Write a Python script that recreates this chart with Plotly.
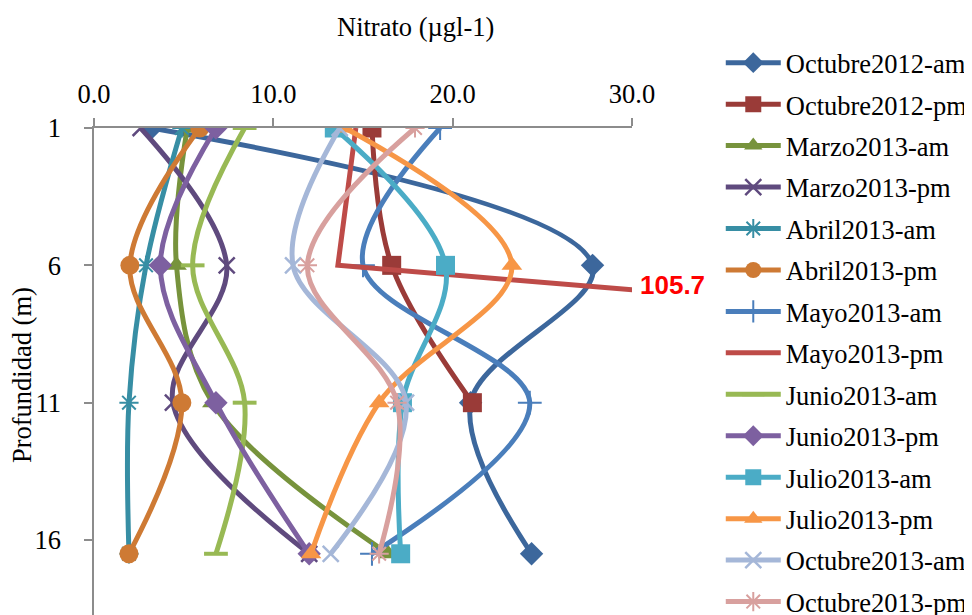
import plotly.graph_objects as go

depth = [1, 6, 11, 16.5]

series_names = [
    "Octubre2012-am", "Octubre2012-pm", "Marzo2013-am", "Marzo2013-pm",
    "Abril2013-am", "Abril2013-pm", "Mayo2013-am", "Mayo2013-pm",
    "Junio2013-am", "Junio2013-pm", "Julio2013-am", "Julio2013-pm",
    "Octubre2013-am", "Octubre2013-pm",
]

octubre2012_am = [3.2, 27.8, 21.0, 24.4]
octubre2012_pm = [15.5, 16.6, 21.1, None]
marzo2013_am = [5.2, 4.6, 6.6, 16.4]
marzo2013_pm = [2.6, 7.4, 4.4, 12.0]
abril2013_am = [4.9, 2.9, 1.95, 1.95]
abril2013_pm = [5.9, 2.0, 4.9, 1.95]
mayo2013_am = [19.3, 15.0, 24.3, 15.5]
mayo2013_pm = [14.6, 13.6, 105.7, None]
junio2013_am = [8.4, 5.5, 8.4, 6.8]
junio2013_pm = [6.8, 3.7, 6.8, 12.0]
julio2013_am = [13.4, 19.6, 17.2, 17.1]
julio2013_pm = [14.0, 23.3, 15.9, 12.1]
octubre2013_am = [13.7, 11.1, 17.4, 13.2]
octubre2013_pm = [17.9, 11.9, 16.9, 15.9]

values = [
    octubre2012_am, octubre2012_pm, marzo2013_am, marzo2013_pm,
    abril2013_am, abril2013_pm, mayo2013_am, mayo2013_pm,
    junio2013_am, junio2013_pm, julio2013_am, julio2013_pm,
    octubre2013_am, octubre2013_pm,
]

x_ticks = [0, 10, 20, 30]
x_tick_labels = ["0.0", "10.0", "20.0", "30.0"]
y_ticks = [1, 6, 11, 16]
y_tick_labels = ["1", "6", "11", "16"]
off_scale_label = "105.7"

colors = [
    "#3C679C", "#9A3B38", "#77933C", "#5F4A7E",
    "#378EA4", "#CE7A34", "#4A7EBB", "#BE4B48",
    "#98B954", "#7D60A0", "#4BACC6", "#F79646",
    "#A5B7D8", "#D8A09E",
]
# (symbol, size, line width for open symbols)
markers = [
    ("diamond", 18, 0), ("square", 19, 0), ("triangle-up", 18, 0), ("x-thin-open", 16, 2.5),
    ("asterisk-open", 16, 2), ("circle", 19, 0), ("cross-thin-open", 17, 2), (None, 0, 0),
    ("line-ew-open", 17, 4), ("diamond", 18, 0), ("square", 19, 0), ("triangle-up", 18, 0),
    ("x-thin-open", 16, 2.5), ("asterisk-open", 16, 2),
]
smooth = [1, 1, 1, 1, 1, 1, 1, 0, 1, 1, 1, 1, 1, 1]

FONT = "Liberation Serif"
FS = 26.5

fig = go.Figure()
for i, (name, vals) in enumerate(zip(series_names, values)):
    sym, size, lw = markers[i]
    mode = "lines+markers" if sym else "lines"
    mk = dict(color=colors[i])
    if sym:
        mk.update(symbol=sym, size=size, line=dict(width=lw, color=colors[i]))
    line = dict(color=colors[i], width=5)
    if smooth[i]:
        line.update(shape="spline", smoothing=1.0)
    fig.add_trace(go.Scatter(
        x=vals, y=depth, name=name, mode=mode,
        line=line, marker=mk, legendgroup=name, cliponaxis=True,
    ))

fig.add_annotation(x=1.0762, y=0.6828, xref="paper", yref="paper", text="<b>" + off_scale_label + "</b>",
                   showarrow=False, font=dict(family="Liberation Sans", size=26, color="#FF0000"),
                   xanchor="center", yanchor="middle")
fig.add_annotation(x=0.5967, y=1.204, xref="paper", yref="paper", text="Nitrato (µgl-1)",
                   showarrow=False, font=dict(family=FONT, size=FS, color="#000000"),
                   xanchor="center", yanchor="middle")
fig.add_annotation(x=-0.1338, y=0.501, xref="paper", yref="paper", text="Profundidad (m)",
                   showarrow=False, textangle=-90, font=dict(family=FONT, size=FS, color="#000000"),
                   xanchor="center", yanchor="middle")

fig.update_layout(
    width=972, height=615,
    margin=dict(l=86, r=348, t=120, b=0, autoexpand=False),
    paper_bgcolor="white", plot_bgcolor="white",
    font=dict(family=FONT, size=FS, color="#000000"),
    showlegend=True,
    legend=dict(x=1.165, y=1.1798, xanchor="left", yanchor="top",
                font=dict(family=FONT, size=FS, color="#000000"),
                tracegroupgap=4, itemwidth=55, maxheight=900,
                bgcolor="rgba(0,0,0,0)"),
    xaxis=dict(side="top", range=[0, 30], tickvals=x_ticks, ticktext=x_tick_labels,
               showgrid=False, zeroline=False, showline=True, linecolor="#8C8C8C", linewidth=1.5,
               ticks="outside", ticklen=8, tickwidth=1.5, tickcolor="#8C8C8C",
               ticklabelstandoff=5),
    yaxis=dict(range=[19.02, 1], tickvals=y_ticks, ticktext=y_tick_labels,
               showgrid=False, zeroline=False, showline=True, linecolor="#8C8C8C", linewidth=1.5,
               ticks="outside", ticklen=8, tickwidth=1.5, tickcolor="#8C8C8C",
               ticklabelstandoff=18),
)

fig.write_html("out.html")
